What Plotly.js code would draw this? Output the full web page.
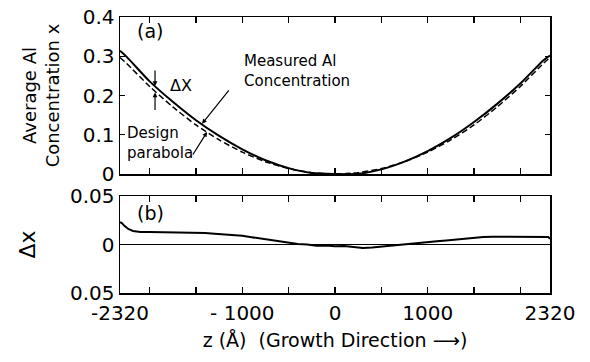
<!DOCTYPE html>
<html><head><meta charset="utf-8">
<script src="https://cdn.plot.ly/plotly-3.0.1.min.js"></script>
<style>body{margin:0;background:#fff}#c{width:590px;height:362px}</style>
</head><body><div id="c"></div><script>
// z positions (Å) for the top panel curves
const zGrid = [-2320,-2250,-2000,-1750,-1500,-1250,-1000,-750,-500,-250,0,250,500,750,1000,1250,1500,1750,2000,2250,2320];
// design parabola (dashed)
const designX = [0.297,0.282,0.223,0.171,0.125,0.087,0.0557,0.0314,0.0139,0.0035,0,0.0035,0.0139,0.0314,0.0557,0.087,0.125,0.171,0.223,0.282,0.297];
// measured Al concentration (solid)
const measuredX = [0.314,0.299,0.236,0.184,0.137,0.097,0.063,0.035,0.015,0.0025,0.0,0.0005,0.0119,0.0317,0.0584,0.0919,0.1324,0.1787,0.2305,0.290,0.302];
// bottom panel: deviation Δx
const dZ = [-2320,-2300,-2270,-2230,-2180,-2100,-2000,-1900,-1800,-1700,-1600,-1500,-1400,-1300,-1200,-1100,-1000,-900,-800,-700,-600,-500,-400,-300,-200,-100,0,100,200,300,400,500,600,700,800,900,1000,1100,1200,1300,1400,1500,1600,1700,1800,1900,2000,2100,2200,2300,2320];
const deltaX = [0.023,0.022,0.019,0.016,0.014,0.013,0.013,0.0128,0.0132,0.0125,0.0128,0.012,0.0118,0.011,0.0105,0.0095,0.009,0.0075,0.006,0.0045,0.003,0.0015,0.0005,0.0,-0.0012,-0.001,-0.0018,-0.0015,-0.0025,-0.0035,-0.003,-0.002,-0.001,0.0,0.0008,0.0018,0.0028,0.0033,0.0042,0.005,0.0062,0.0072,0.0078,0.008,0.008,0.0078,0.0076,0.0078,0.0079,0.0078,0.006];
// tick labels
const xTickVals = [-2320,-1000,0,1000,2320];
const xTickText = ['-2320','- 1000','0','1000','2320'];
const xMinorVals = [-2000,-1500,-500,500,1500,2000];
const yTopVals = [0,0.1,0.2,0.3,0.4];
const yTopText = ['0','0.1','0.2','0.3','0.4'];
const yBotVals = [-0.05,0,0.05];
const yBotText = ['0.05','0','0.05'];

const F = 'DejaVu Sans, sans-serif';
const tickFont = {family:F,size:20,color:'#000'};
const base = {showline:true,linecolor:'#000',linewidth:1.5,mirror:'allticks',ticks:'inside',
  ticklen:6,tickwidth:1.2,tickcolor:'#000',showgrid:false,zeroline:false,tickfont:tickFont,fixedrange:true};

const traces = [
  {x:zGrid,y:measuredX,xaxis:'x2',yaxis:'y',mode:'lines',line:{color:'#000',width:2,shape:'spline',smoothing:0.6},hoverinfo:'skip'},
  {x:zGrid,y:designX,xaxis:'x2',yaxis:'y',mode:'lines',line:{color:'#000',width:1.5,dash:'6px,3px',shape:'spline',smoothing:0.6},hoverinfo:'skip'},
  {x:dZ,y:deltaX,xaxis:'x',yaxis:'y2',mode:'lines',line:{color:'#000',width:2},hoverinfo:'skip'}
];

const af = {family:F,size:15,color:'#000'};
const layout = {
  width:590,height:362,margin:{l:120,r:40,t:17,b:69},
  paper_bgcolor:'#fff',plot_bgcolor:'#fff',showlegend:false,
  xaxis:Object.assign({},base,{domain:[0,1],anchor:'y2',range:[-2320,2320],tickmode:'array',tickvals:xTickVals,ticktext:xTickText,
    ticklabelstandoff:1,
    minor:{tickmode:'array',tickvals:xMinorVals,ticks:'inside',ticklen:6,tickwidth:1.2,tickcolor:'#000'},
    title:{text:'z (Å)  (Growth Direction ⟶)',font:{family:F,size:19,color:'#000'},standoff:10}}),
  xaxis2:Object.assign({},base,{domain:[0,1],anchor:'y',matches:'x',range:[-2320,2320],tickmode:'array',tickvals:xTickVals,showticklabels:false,
    minor:{tickmode:'array',tickvals:xMinorVals,ticks:'inside',ticklen:6,tickwidth:1.2,tickcolor:'#000'}}),
  yaxis:Object.assign({},base,{domain:[0.431,1],anchor:'x2',range:[0,0.4],tickmode:'array',tickvals:yTopVals,ticktext:yTopText,ticklen:5,
    title:{text:'Average Al<br>Concentration x',font:{family:F,size:18,color:'#000'},standoff:18}}),
  yaxis2:Object.assign({},base,{domain:[0,0.3514],anchor:'x',range:[-0.05,0.05],tickmode:'array',tickvals:yBotVals,ticktext:yBotText,ticklen:0,
    zeroline:true,zerolinecolor:'#000',zerolinewidth:1,
    title:{text:'Δx',font:{family:F,size:22,color:'#000'},standoff:28}}),
  annotations:[
    {xref:'paper',yref:'paper',x:0.035,y:0.95,text:'(a)',showarrow:false,xanchor:'left',yanchor:'middle',font:{family:F,size:19,color:'#000'}},
    {xref:'paper',yref:'paper',x:0.035,y:0.29,text:'(b)',showarrow:false,xanchor:'left',yanchor:'middle',font:{family:F,size:19,color:'#000'}},
    {xref:'x2',yref:'y',x:-1800,y:0.225,text:'ΔX',showarrow:false,xanchor:'left',yanchor:'middle',font:{family:F,size:16,color:'#000'}},
    {xref:'x2',yref:'y',x:-1942,y:0.224,ax:0,ay:-17,text:'',showarrow:true,arrowhead:2,arrowsize:0.8,arrowwidth:1.2,arrowcolor:'#000'},
    {xref:'x2',yref:'y',x:-1942,y:0.208,ax:0,ay:19,text:'',showarrow:true,arrowhead:2,arrowsize:0.8,arrowwidth:1.2,arrowcolor:'#000'},
    {xref:'x2',yref:'y',x:-1000,y:0.262,text:'Measured Al<br>Concentration',showarrow:false,xanchor:'left',yanchor:'middle',align:'left',font:af},
    {xref:'x2',yref:'y',x:-1435,y:0.128,ax:28,ay:-35,text:'',showarrow:true,arrowhead:2,arrowsize:0.8,arrowwidth:1.2,arrowcolor:'#000'},
    {xref:'x2',yref:'y',x:-2270,y:0.078,text:'Design<br>parabola',showarrow:false,xanchor:'left',yanchor:'middle',align:'left',font:af},
    {xref:'x2',yref:'y',x:-1381,y:0.107,ax:-15,ay:24,text:'',showarrow:true,arrowhead:2,arrowsize:0.8,arrowwidth:1.2,arrowcolor:'#000'}
  ]
};
Plotly.newPlot('c',traces,layout,{staticPlot:true,displayModeBar:false});
</script></body></html>
